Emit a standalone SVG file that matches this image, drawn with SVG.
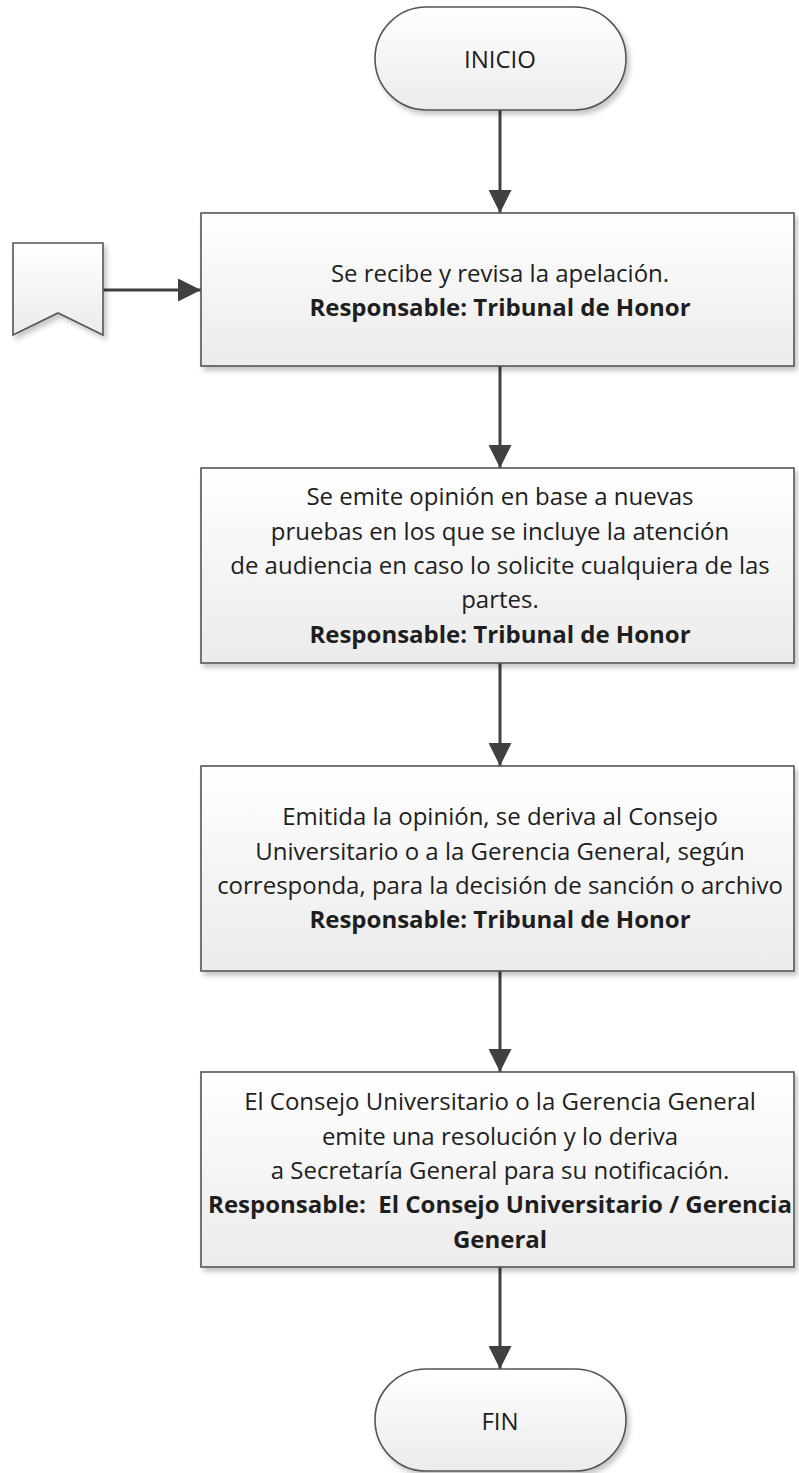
<svg xmlns="http://www.w3.org/2000/svg" width="799" height="1473" viewBox="0 0 799 1473">
<defs>
<linearGradient id="g" x1="0" y1="0" x2="0" y2="1">
<stop offset="0" stop-color="#ffffff"/>
<stop offset="1" stop-color="#ebebeb"/>
</linearGradient>
<filter id="sh" x="-10%" y="-10%" width="125%" height="130%">
<feDropShadow dx="3" dy="4" stdDeviation="2.5" flood-color="#000" flood-opacity="0.22"/>
</filter>
<marker id="ah" viewBox="0 0 23 23" markerWidth="23" markerHeight="23" refX="23" refY="11.5" orient="auto" markerUnits="userSpaceOnUse">
<path d="M0,0 L23,11.5 L0,23 z" fill="#404040"/>
</marker>
</defs>
<style>
.shape{fill:url(#g);stroke:#555;stroke-width:1.6;filter:url(#sh)}
.t{font-family:"Open Sans","Noto Sans","Liberation Sans",sans-serif;font-size:24px;fill:#1e1e1e;text-anchor:middle}
.b{font-weight:bold}
.c{stroke:#404040;stroke-width:3;fill:none;marker-end:url(#ah)}
</style>
<rect width="799" height="1473" fill="#ffffff"/>
<g id="connectors">
<line class="c" x1="500" y1="110" x2="500" y2="213"/>
<line class="c" x1="103" y1="290" x2="201" y2="290"/>
<line class="c" x1="500" y1="366" x2="500" y2="468"/>
<line class="c" x1="500" y1="663" x2="500" y2="766"/>
<line class="c" x1="500" y1="971" x2="500" y2="1072"/>
<line class="c" x1="500" y1="1267" x2="500" y2="1369"/>
</g>
<g id="inicio">
<rect class="shape" x="375" y="7" width="251" height="103" rx="51.5" ry="51.5"/>
<text class="t" x="500" y="68">INICIO</text>
</g>
<g id="offpage">
<polygon class="shape" points="13,243 103,243 103,335 58,313 13,335"/>
</g>
<g id="step1">
<rect class="shape" x="201" y="213" width="593" height="153"/>
<text class="t" x="500" y="282">Se recibe y revisa la apelación.</text>
<text class="t b" x="500" y="316">Responsable: Tribunal de Honor</text>
</g>
<g id="step2">
<rect class="shape" x="201" y="468" width="593" height="195"/>
<text class="t" x="500" y="505">Se emite opinión en base a nuevas</text>
<text class="t" x="500" y="540">pruebas en los que se incluye la atención</text>
<text class="t" x="500" y="574">de audiencia en caso lo solicite cualquiera de las</text>
<text class="t" x="500" y="608">partes.</text>
<text class="t b" x="500" y="643">Responsable: Tribunal de Honor</text>
</g>
<g id="step3">
<rect class="shape" x="201" y="766" width="593" height="205"/>
<text class="t" x="500" y="825">Emitida la opinión, se deriva al Consejo</text>
<text class="t" x="500" y="860">Universitario o a la Gerencia General, según</text>
<text class="t" x="500" y="894">corresponda, para la decisión de sanción o archivo</text>
<text class="t b" x="500" y="928">Responsable: Tribunal de Honor</text>
</g>
<g id="step4">
<rect class="shape" x="201" y="1072" width="593" height="195"/>
<text class="t" x="500" y="1110">El Consejo Universitario o la Gerencia General</text>
<text class="t" x="500" y="1145">emite una resolución y lo deriva</text>
<text class="t" x="500" y="1179">a Secretaría General para su notificación.</text>
<text class="t b" x="500" y="1213" xml:space="preserve">Responsable:  El Consejo Universitario / Gerencia</text>
<text class="t b" x="500" y="1248">General</text>
</g>
<g id="fin">
<rect class="shape" x="375" y="1369" width="251" height="102" rx="51" ry="51"/>
<text class="t" x="500" y="1430">FIN</text>
</g>
</svg>
